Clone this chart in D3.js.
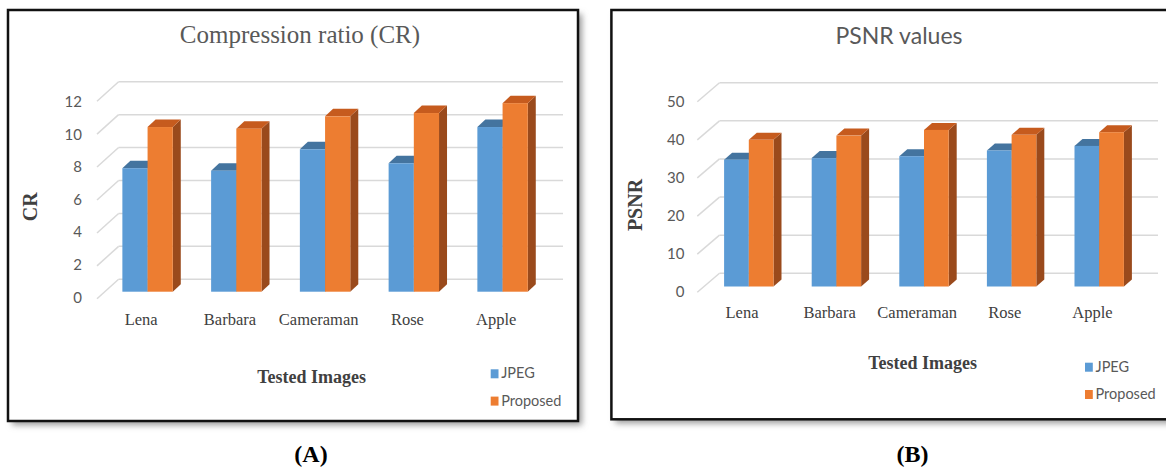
<!DOCTYPE html>
<html>
<head>
<meta charset="utf-8">
<script src="https://cdn.jsdelivr.net/npm/d3@7"></script>
<style>
  body { margin: 0; background: #ffffff; }
  svg { display: block; }
</style>
</head>
<body>
<div id="chart"></div>
<script>
// data
const categories = ['Lena', 'Barbara', 'Cameraman', 'Rose', 'Apple'];
const seriesNames = ['JPEG', 'Proposed'];
const crJpeg = [7.5, 7.35, 8.65, 7.8, 10.0];
const crProposed = [10.0, 9.9, 10.65, 10.85, 11.45];
const psnrJpeg = [33.3, 33.7, 34.2, 35.7, 36.9];
const psnrProposed = [38.5, 39.6, 41.1, 39.8, 40.5];
const crTicks = [0, 2, 4, 6, 8, 10, 12];
const psnrTicks = [0, 10, 20, 30, 40, 50];

const colors = {
    JPEG: { front: '#5B9BD5', top: '#44749F', side: '#3A6591' },
    Proposed: { front: '#ED7D31', top: '#C65B1E', side: '#9A4A1C' }
};

const svg = d3.select('#chart')
    .append('svg')
    .attr('width', 1166)
    .attr('height', 467);

const defs = svg.append('defs');
defs.append('filter')
    .attr('id', 'shadow')
    .attr('x', '-5%').attr('y', '-5%')
    .attr('width', '115%').attr('height', '115%')
    .append('feGaussianBlur')
    .attr('stdDeviation', 3);

function drawPanel(cfg) {
    const g = svg.append('g').attr('class', 'panel');

    // frame with soft shadow
    g.append('rect')
        .attr('x', cfg.box[0] + 4).attr('y', cfg.box[1] + 4)
        .attr('width', cfg.box[2]).attr('height', cfg.box[3])
        .attr('fill', '#9a9a9a')
        .attr('filter', 'url(#shadow)');
    g.append('rect')
        .attr('x', cfg.box[0]).attr('y', cfg.box[1])
        .attr('width', cfg.box[2]).attr('height', cfg.box[3])
        .attr('fill', '#ffffff')
        .attr('stroke', '#111')
        .attr('stroke-width', 2.5);

    // title
    g.append('text')
        .attr('x', cfg.titleX).attr('y', cfg.titleY)
        .attr('text-anchor', 'middle')
        .attr('font-family', cfg.titleFont)
        .attr('font-size', cfg.titleSize)
        .attr('fill', '#595959')
        .text(cfg.title);

    const yBack = d3.scaleLinear().domain(cfg.domain).range(cfg.backRange);
    const yFront = d3.scaleLinear().domain(cfg.domain).range(cfg.frontRange);
    const yBar = d3.scaleLinear().domain(cfg.domain).range(cfg.barRange);

    const x = d3.scaleBand()
        .domain(categories)
        .range(cfg.xRange)
        .paddingInner(cfg.padding)
        .paddingOuter(cfg.padding / 2);
    const xInner = d3.scaleBand()
        .domain(seriesNames)
        .range([0, x.bandwidth()]);

    // walls: back gridlines and side diagonals
    const grid = g.append('g').attr('class', 'grid');
    grid.selectAll('line.back')
        .data(cfg.ticks)
        .join('line')
        .attr('class', 'back')
        .attr('x1', cfg.wallX[1]).attr('x2', cfg.wallEnd)
        .attr('y1', d => yBack(d)).attr('y2', d => yBack(d))
        .attr('stroke', '#d9d9d9')
        .attr('stroke-width', 1.5);
    grid.selectAll('line.side')
        .data(cfg.ticks)
        .join('line')
        .attr('class', 'side')
        .attr('x1', cfg.wallX[0]).attr('x2', cfg.wallX[1])
        .attr('y1', d => yBack(d) + cfg.wallDy).attr('y2', d => yBack(d))
        .attr('stroke', '#d9d9d9')
        .attr('stroke-width', 1.5);

    // y tick labels at the front edge of the side wall
    const yAxis = g.append('g')
        .attr('transform', `translate(${cfg.tickX},0)`)
        .call(d3.axisLeft(yFront).tickValues(cfg.ticks).tickSize(0).tickPadding(0));
    yAxis.select('.domain').remove();
    yAxis.selectAll('text')
        .attr('font-family', 'Lato, "Noto Sans", sans-serif')
        .attr('font-size', 15)
        .attr('fill', '#595959');

    // bars, drawn as oblique 3D columns
    const rows = categories.map((c, i) => ({
        cat: c,
        vals: [{ s: 'JPEG', v: cfg.jpeg[i] }, { s: 'Proposed', v: cfg.proposed[i] }]
    }));
    const dx = cfg.depth[0], dy = cfg.depth[1];
    const base = yBar(0);

    const groups = g.append('g').attr('class', 'bars')
        .selectAll('g.cat')
        .data(rows)
        .join('g')
        .attr('class', 'cat')
        .attr('transform', d => `translate(${x(d.cat)},0)`);

    const bars = groups.selectAll('g.bar')
        .data(d => d.vals)
        .join('g')
        .attr('class', 'bar');

    bars.append('polygon')
        .attr('points', d => {
            const x0 = xInner(d.s) + xInner.bandwidth(), t = yBar(d.v);
            return [[x0, t], [x0 + dx, t + dy], [x0 + dx, base + dy], [x0, base]].join(' ');
        })
        .attr('fill', d => colors[d.s].side);
    bars.append('polygon')
        .attr('points', d => {
            const x0 = xInner(d.s), x1 = x0 + xInner.bandwidth(), t = yBar(d.v);
            return [[x0, t], [x1, t], [x1 + dx, t + dy], [x0 + dx, t + dy]].join(' ');
        })
        .attr('fill', d => colors[d.s].top);
    bars.append('rect')
        .attr('x', d => xInner(d.s))
        .attr('y', d => yBar(d.v))
        .attr('width', xInner.bandwidth())
        .attr('height', d => base - yBar(d.v))
        .attr('fill', d => colors[d.s].front);

    // category labels
    const xAxis = g.append('g')
        .attr('transform', `translate(${cfg.catShift},${cfg.catY})`)
        .call(d3.axisBottom(x).tickSize(0).tickPadding(0));
    xAxis.select('.domain').remove();
    xAxis.selectAll('text')
        .attr('dy', 0)
        .attr('font-family', '"Liberation Serif", "Times New Roman", serif')
        .attr('font-size', 16.5)
        .attr('fill', '#404040');

    // axis titles
    g.append('text')
        .attr('transform', `translate(${cfg.yTitle[0]},${cfg.yTitle[1]}) rotate(-90)`)
        .attr('text-anchor', 'middle')
        .attr('dy', '0.35em')
        .attr('font-family', '"Liberation Serif", "Times New Roman", serif')
        .attr('font-weight', 'bold')
        .attr('font-size', 20)
        .attr('fill', '#404040')
        .text(cfg.yLabel);
    g.append('text')
        .attr('x', cfg.xTitle[0]).attr('y', cfg.xTitle[1])
        .attr('text-anchor', 'middle')
        .attr('font-family', '"Liberation Serif", "Times New Roman", serif')
        .attr('font-weight', 'bold')
        .attr('font-size', 18)
        .attr('fill', '#404040')
        .text('Tested Images');

    // legend
    const legend = g.append('g')
        .attr('transform', `translate(${cfg.legend[0]},${cfg.legend[1]})`);
    const items = legend.selectAll('g')
        .data(seriesNames)
        .join('g')
        .attr('transform', (d, i) => `translate(0,${i * 27.3})`);
    items.append('rect')
        .attr('x', 0).attr('y', -9)
        .attr('width', 7.8).attr('height', 9)
        .attr('fill', d => colors[d].front);
    items.append('text')
        .attr('x', 10.5).attr('y', 0)
        .attr('font-family', 'Lato, "Noto Sans", sans-serif')
        .attr('font-size', 14.5)
        .attr('fill', '#595959')
        .text(d => d);

    // panel caption below the frame
    svg.append('text')
        .attr('x', cfg.caption[0]).attr('y', cfg.caption[1])
        .attr('text-anchor', 'middle')
        .attr('font-family', '"Liberation Serif", "Times New Roman", serif')
        .attr('font-weight', 'bold')
        .attr('font-size', 24)
        .attr('fill', '#000')
        .text(cfg.captionText);
}

drawPanel({
    box: [8, 10, 570, 411],
    title: 'Compression ratio (CR)',
    titleX: 300, titleY: 43,
    titleFont: '"Liberation Serif", "Times New Roman", serif',
    titleSize: 25,
    domain: [0, 12],
    ticks: crTicks,
    backRange: [279.3, 81.7],
    frontRange: [297.2, 101.7],
    barRange: [291.7, 94.1],
    wallX: [97, 118.6],
    wallEnd: 563,
    wallDy: 19.5,
    tickX: 82,
    xRange: [103.2, 546.95],
    padding: 0.432,
    depth: [8, -7.5],
    jpeg: crJpeg,
    proposed: crProposed,
    catShift: -6.4,
    catY: 325,
    yLabel: 'CR',
    yTitle: [30, 206.7],
    xTitle: [311.7, 382.7],
    legend: [490.7, 378.3],
    caption: [311, 461.7],
    captionText: '(A)'
});

drawPanel({
    box: [611.4, 10, 580, 409.3],
    title: 'PSNR values',
    titleX: 899, titleY: 44,
    titleFont: 'Lato, "Noto Sans", sans-serif',
    titleSize: 23,
    domain: [0, 50],
    ticks: psnrTicks,
    backRange: [273.3, 82.7],
    frontRange: [291.7, 101.7],
    barRange: [286.5, 96],
    wallX: [697.3, 719.5],
    wallEnd: 1158,
    wallDy: 19,
    tickX: 684.4,
    xRange: [705, 1143],
    padding: 0.436,
    depth: [8, -7],
    jpeg: psnrJpeg,
    proposed: psnrProposed,
    catShift: -6.8,
    catY: 318.3,
    yLabel: 'PSNR',
    yTitle: [635.4, 205],
    xTitle: [922.7, 369.3],
    legend: [1085, 371.7],
    caption: [912.5, 461.7],
    captionText: '(B)'
});
</script>
</body>
</html>
